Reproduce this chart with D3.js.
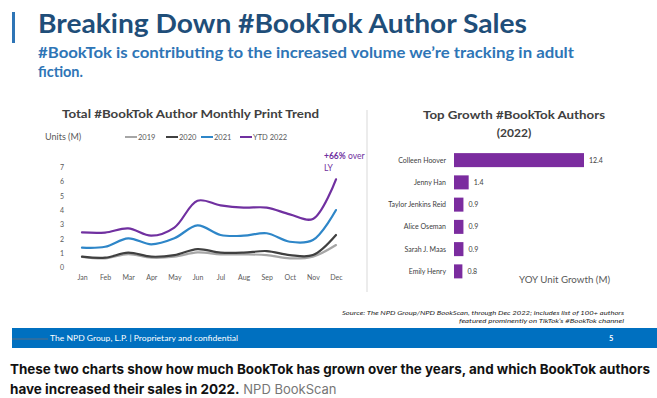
<!DOCTYPE html>
<html>
<head>
<meta charset="utf-8">
<script src="https://cdn.jsdelivr.net/npm/d3@7"></script>
<style>
  body { margin: 0; background: #fff; }
  svg { display: block; }
</style>
</head>
<body>
<svg id="chart" width="657" height="398"></svg>
<script>
// data
var months = ['Jan','Feb','Mar','Apr','May','Jun','Jul','Aug','Sep','Oct','Nov','Dec'];
var yTicks = [0,1,2,3,4,5,6,7];
var seriesNames = ['2019','2020','2021','YTD 2022'];
var units2019 = [0.75,0.65,0.95,0.70,0.77,1.07,0.93,0.93,0.88,0.65,0.77,1.58];
var units2020 = [0.77,0.70,1.05,0.77,0.88,1.30,1.05,1.05,1.16,0.88,0.88,2.28];
var units2021 = [1.40,1.46,2.05,1.63,2.05,2.95,2.28,2.23,2.40,1.81,1.93,4.02];
var units2022 = [2.46,2.45,2.74,2.23,2.80,4.67,4.35,4.19,4.19,3.72,3.40,6.16];
var authors = ['Colleen Hoover','Jenny Han','Taylor Jenkins Reid','Alice Oseman','Sarah J. Maas','Emily Henry'];
var growth = [12.4,1.4,0.9,0.9,0.9,0.8];

var colors = ['#a6a6a6','#404040','#2e86c8','#7030a0'];
var allSeries = [units2019, units2020, units2021, units2022];

var svg = d3.select('#chart');
var sans = 'Lato, "Open Sans", sans-serif';

// header
svg.append('rect').attr('x', 12).attr('y', 12).attr('width', 3).attr('height', 31).attr('fill', '#2e75b6');
svg.append('text').attr('x', 38).attr('y', 33)
    .attr('font-family', sans).attr('font-weight', 'bold').attr('font-size', 26)
    .attr('fill', '#1f4e79').attr('textLength', 489).attr('lengthAdjust', 'spacingAndGlyphs')
    .text('Breaking Down #BookTok Author Sales');
svg.append('text').attr('x', 38).attr('y', 58)
    .attr('font-family', sans).attr('font-weight', 'bold').attr('font-size', 14.5)
    .attr('fill', '#2e75b6').attr('textLength', 536).attr('lengthAdjust', 'spacingAndGlyphs')
    .text('#BookTok is contributing to the increased volume we\u2019re tracking in adult');
svg.append('text').attr('x', 38).attr('y', 77)
    .attr('font-family', sans).attr('font-weight', 'bold').attr('font-size', 14.5)
    .attr('fill', '#2e75b6').text('fiction.');

// ---- left: monthly print trend ----
var x = d3.scalePoint().domain(months).range([82, 336]);
var y = d3.scaleLinear().domain([0, 7]).range([267.7, 167.3]);

svg.append('text').attr('x', 62).attr('y', 118)
    .attr('font-family', sans).attr('font-weight', 'bold').attr('font-size', 11.5)
    .attr('fill', '#404040').attr('textLength', 257).attr('lengthAdjust', 'spacingAndGlyphs')
    .text('Total #BookTok Author Monthly Print Trend');
svg.append('text').attr('x', 45).attr('y', 140)
    .attr('font-family', sans).attr('font-size', 9).attr('fill', '#595959')
    .text('Units (M)');

var legendX = [125, 166, 201, 240];
seriesNames.forEach(function (name, i) {
    var g = svg.append('g').attr('transform', 'translate(' + legendX[i] + ',137)');
    g.append('line').attr('x1', 0).attr('x2', 12).attr('stroke', colors[i]).attr('stroke-width', 2);
    g.append('text').attr('x', 13).attr('y', 2.5)
        .attr('font-family', sans).attr('font-size', 7.5).attr('fill', '#595959').text(name);
});

var yAxis = d3.axisLeft(y).tickValues(yTicks).tickFormat(d3.format('d')).tickSize(0).tickPadding(0);
svg.append('g').attr('transform', 'translate(64,0)').call(yAxis)
    .call(function (g) { g.select('.domain').remove(); })
    .selectAll('text').attr('font-family', sans).attr('font-size', 7).attr('fill', '#595959');

var xAxis = d3.axisBottom(x).tickSize(0).tickPadding(0);
svg.append('g').attr('transform', 'translate(0,275)').call(xAxis)
    .call(function (g) { g.select('.domain').remove(); })
    .selectAll('text').attr('font-family', sans).attr('font-size', 7).attr('fill', '#595959');

var line = d3.line()
    .x(function (d, i) { return x(months[i]); })
    .y(function (d) { return y(d); })
    .curve(d3.curveCatmullRom.alpha(0.5));

allSeries.forEach(function (vals, i) {
    svg.append('path').datum(vals)
        .attr('d', line).attr('fill', 'none')
        .attr('stroke', colors[i]).attr('stroke-width', 2.2)
        .attr('stroke-linejoin', 'round').attr('stroke-linecap', 'round');
});

var note = svg.append('text').attr('x', 324).attr('y', 159)
    .attr('font-family', sans).attr('font-size', 8.5).attr('fill', '#7030a0');
note.append('tspan').attr('font-weight', 'bold').text('+66%');
note.append('tspan').text(' over');
svg.append('text').attr('x', 324).attr('y', 171)
    .attr('font-family', sans).attr('font-size', 8.5).attr('fill', '#7030a0').text('LY');

// separator
svg.append('line').attr('x1', 367).attr('x2', 367).attr('y1', 110).attr('y2', 292)
    .attr('stroke', '#d9d9d9').attr('stroke-width', 1);

// ---- right: top growth authors ----
svg.append('text').attr('x', 514).attr('y', 119).attr('text-anchor', 'middle')
    .attr('font-family', sans).attr('font-weight', 'bold').attr('font-size', 12)
    .attr('fill', '#404040').attr('textLength', 182).attr('lengthAdjust', 'spacingAndGlyphs')
    .text('Top Growth #BookTok Authors');
svg.append('text').attr('x', 514).attr('y', 137).attr('text-anchor', 'middle')
    .attr('font-family', sans).attr('font-weight', 'bold').attr('font-size', 12)
    .attr('fill', '#404040').text('(2022)');

var bx = d3.scaleLinear().domain([0, 12.4]).range([454, 584]);
var by = d3.scaleBand().domain(authors).range([149, 282.5]).paddingInner(0.37).paddingOuter(0.185);

var barData = authors.map(function (a, i) { return { name: a, value: growth[i] }; });

svg.selectAll('rect.bar').data(barData).enter().append('rect')
    .attr('class', 'bar')
    .attr('x', bx(0))
    .attr('y', function (d) { return by(d.name); })
    .attr('width', function (d) { return bx(d.value) - bx(0); })
    .attr('height', by.bandwidth())
    .attr('fill', '#7b2c9f');

svg.selectAll('text.author').data(barData).enter().append('text')
    .attr('class', 'author')
    .attr('x', 446).attr('y', function (d) { return by(d.name) + by.bandwidth() / 2 + 2.5; })
    .attr('text-anchor', 'end')
    .attr('font-family', sans).attr('font-size', 7).attr('fill', '#404040')
    .text(function (d) { return d.name; });

svg.selectAll('text.val').data(barData).enter().append('text')
    .attr('class', 'val')
    .attr('x', function (d) { return bx(d.value) + 5; })
    .attr('y', function (d) { return by(d.name) + by.bandwidth() / 2 + 2.5; })
    .attr('font-family', sans).attr('font-size', 7).attr('fill', '#404040')
    .text(function (d) { return d.value.toFixed(1); });

svg.append('text').attr('x', 519).attr('y', 283)
    .attr('font-family', sans).attr('font-size', 9.5).attr('fill', '#595959')
    .attr('textLength', 91).attr('lengthAdjust', 'spacingAndGlyphs')
    .text('YOY Unit Growth (M)');

// source + footer band
svg.append('text').attr('x', 624).attr('y', 315).attr('text-anchor', 'end')
    .attr('font-family', sans).attr('font-style', 'italic').attr('font-size', 6)
    .attr('fill', '#262626').attr('textLength', 282).attr('lengthAdjust', 'spacingAndGlyphs')
    .text('Source: The NPD Group/NPD BookScan, through Dec 2022; includes list of 100+ authors');
svg.append('text').attr('x', 624).attr('y', 323).attr('text-anchor', 'end')
    .attr('font-family', sans).attr('font-style', 'italic').attr('font-size', 6)
    .attr('fill', '#262626').attr('textLength', 165).attr('lengthAdjust', 'spacingAndGlyphs')
    .text('featured prominently on TikTok\u2019s #BookTok channel');

svg.append('rect').attr('x', 12).attr('y', 328).attr('width', 645).attr('height', 20).attr('fill', '#0070c0');
svg.append('line').attr('x1', 12).attr('x2', 48).attr('y1', 339).attr('y2', 339)
    .attr('stroke', '#3b6e99').attr('stroke-width', 1.5);
svg.append('text').attr('x', 50).attr('y', 341)
    .attr('font-family', sans).attr('font-size', 7.5).attr('fill', '#fff')
    .attr('textLength', 188).attr('lengthAdjust', 'spacingAndGlyphs')
    .text('The NPD Group, L.P.  |  Proprietary and confidential');
svg.append('text').attr('x', 609).attr('y', 341)
    .attr('font-family', sans).attr('font-weight', 'bold').attr('font-size', 7.5).attr('fill', '#fff')
    .text('5');

// caption
var cap = 'Inter, Roboto, sans-serif';
svg.append('text').attr('x', 10).attr('y', 374)
    .attr('font-family', cap).attr('font-weight', 'bold').attr('font-size', 13.5)
    .attr('fill', '#121212').attr('textLength', 640).attr('lengthAdjust', 'spacingAndGlyphs')
    .text('These two charts show how much BookTok has grown over the years, and which BookTok authors');
var cap2 = svg.append('text').attr('x', 10).attr('y', 394)
    .attr('font-family', cap).attr('font-size', 13.5);
cap2.append('tspan').attr('font-weight', 'bold').attr('fill', '#121212').text('have increased their sales in 2022.');
cap2.append('tspan').attr('fill', '#767676').attr('font-size', 13).text('  NPD BookScan');
</script>
</body>
</html>
